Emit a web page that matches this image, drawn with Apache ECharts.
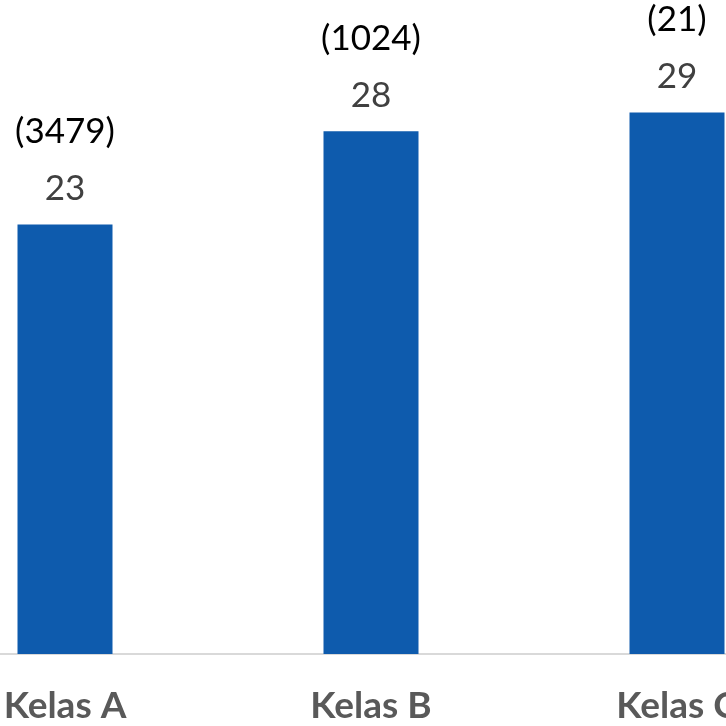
<!DOCTYPE html>
<html>
<head>
<meta charset="utf-8">
<style>
html,body{margin:0;padding:0;width:726px;height:726px;overflow:hidden;background:#fff;}
#chart{position:absolute;left:-88px;top:0;width:918px;height:726px;}
</style>
<script src="https://cdn.jsdelivr.net/npm/echarts@6/dist/echarts.min.js"></script>
</head>
<body>
<div id="chart"></div>
<script>
const categories = ["Kelas A", "Kelas B", "Kelas C"];
const values = [23, 28, 29];
const counts = ["(3479)", "(1024)", "(21)"];

const chart = echarts.init(document.getElementById('chart'));
chart.setOption({
  animation: false,
  grid: {left: 0, right: 0, top: 0.5, bottom: 71},
  xAxis: {
    type: 'category',
    data: categories,
    axisLine: {lineStyle: {color: '#d9d9d9', width: 2}},
    axisTick: {show: false},
    axisLabel: {
      color: '#595959', fontSize: 37, fontWeight: 'bold',
      fontFamily: 'Lato, "Open Sans", sans-serif',
      margin: 32, lineHeight: 40, interval: 0
    }
  },
  yAxis: {type: 'value', min: 0, max: 35, show: false, splitLine: {show: false}},
  series: [{
    type: 'bar',
    data: values,
    barWidth: 95,
    itemStyle: {color: '#0E5BAD'},
    label: {
      show: true,
      position: 'top',
      distance: 7,
      formatter: p => '{a|' + counts[p.dataIndex] + '}\n{b|' + p.value + '}',
      rich: {
        a: {color: '#000', fontSize: 35, lineHeight: 57, fontFamily: 'Lato, "Open Sans", sans-serif'},
        b: {color: '#404040', fontSize: 35, lineHeight: 57, fontFamily: 'Lato, "Open Sans", sans-serif'}
      }
    }
  }]
});
</script>
</body>
</html>
